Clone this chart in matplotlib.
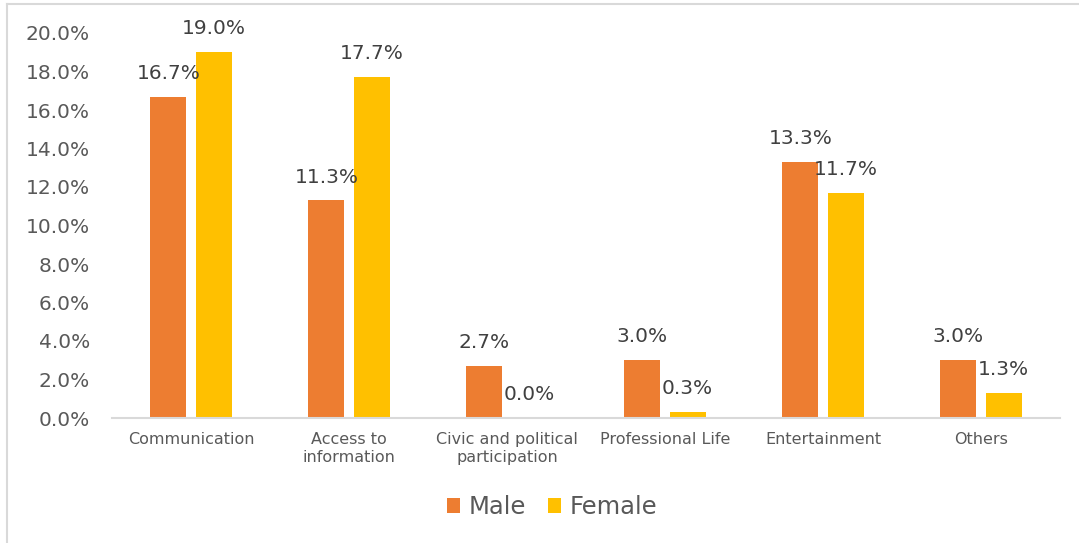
import matplotlib.pyplot as plt
import numpy as np
from matplotlib.lines import Line2D

categories = ["Communication", "Access to\ninformation", "Civic and political\nparticipation",
              "Professional Life", "Entertainment", "Others"]
male = [16.7, 11.3, 2.7, 3.0, 13.3, 3.0]
female = [19.0, 17.7, 0.0, 0.3, 11.7, 1.3]

grey = "#595959"
plt.rcParams['font.family'] = ['DejaVu Sans']

fig = plt.figure(figsize=(10.79, 5.43), dpi=100)
ax = fig.add_axes([112 / 1079, 125 / 543, 948 / 1079, 385 / 543])

x = np.arange(len(categories))
w = 0.228
m_bars = ax.bar(x - 0.143, male, w, color="#ED7D31", label="Male")
f_bars = ax.bar(x + 0.143, female, w, color="#FFC000", label="Female")

# value labels above each bar
for bars, vals in [(m_bars, male), (f_bars, female)]:
    for b, v in zip(bars, vals):
        ax.annotate(f"{v:.1f}%", (b.get_x() + b.get_width() / 2, v),
                    xytext=(0, 10), textcoords="offset points",
                    ha="center", va="bottom", fontsize=14.5, color="#404040")

ax.set_xlim(-0.5, len(categories) - 0.5)
ax.set_ylim(0, 20)
ax.set_yticks(np.arange(0, 21, 2))
ax.set_yticklabels([f"{t:.1f}%" for t in np.arange(0, 21, 2)])
ax.set_xticks(x)
ax.set_xticklabels(categories, fontsize=11.5, color=grey, linespacing=1.25)
ax.tick_params(axis="y", length=0, pad=16, labelsize=14.5, labelcolor=grey)
ax.tick_params(axis="x", length=0, pad=10)
for s in ["top", "right", "left"]:
    ax.spines[s].set_visible(False)
ax.spines["bottom"].set_color("#D9D9D9")
ax.spines["bottom"].set_linewidth(1.5)

leg = fig.legend(loc="center", bbox_to_anchor=(552 / 1079, 1 - 507 / 543), ncol=2,
                 frameon=False, fontsize=17.5, handlelength=0.55, handleheight=0.55,
                 handletextpad=0.35, columnspacing=0.9)
for t in leg.get_texts():
    t.set_color(grey)

# light frame lines on the top and left edges
fig.lines.append(Line2D([7 / 1079, 1], [1 - 4 / 543, 1 - 4 / 543], transform=fig.transFigure,
                        color="#D9D9D9", linewidth=1.5))
fig.lines.append(Line2D([7 / 1079, 7 / 1079], [0, 1 - 4 / 543], transform=fig.transFigure,
                        color="#D9D9D9", linewidth=1.5))

fig.savefig("out.png", dpi=100)
